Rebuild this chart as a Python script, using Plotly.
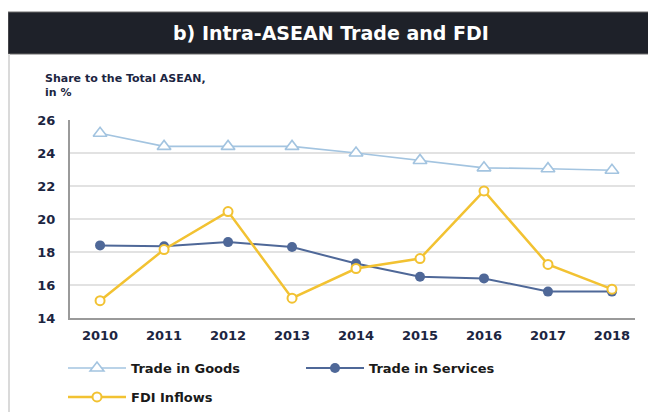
import plotly.graph_objects as go

years = [2010, 2011, 2012, 2013, 2014, 2015, 2016, 2017, 2018]
trade_goods = [25.2, 24.4, 24.4, 24.4, 24.0, 23.55, 23.1, 23.05, 22.95]
trade_services = [18.4, 18.35, 18.6, 18.3, 17.3, 16.5, 16.4, 15.6, 15.6]
fdi_inflows = [15.05, 18.15, 20.45, 15.2, 17.0, 17.6, 21.7, 17.25, 15.75]
y_ticks = [14, 16, 18, 20, 22, 24, 26]

NAVY = "#1c2541"
FONT = "DejaVu Sans"
OFF = 8  # page body margin
W, H = 656 - OFF, 412 - OFF


def px_x(px):
    return (px - 70) / 565


def px_y(py):
    return (318 - py) / 198


def cx(px):
    return (px - OFF) / W


def cy(py):
    return 1 - (py - OFF) / H


fig = go.Figure()
fig.add_trace(go.Scatter(
    x=years, y=trade_goods, name="Trade in Goods", mode="lines+markers",
    line=dict(color="#a3c4e0", width=1.6),
    marker=dict(symbol="triangle-up", size=12, color="white",
                line=dict(color="#a3c4e0", width=1.6)),
    legend="legend"))
fig.add_trace(go.Scatter(
    x=years, y=trade_services, name="Trade in Services", mode="lines+markers",
    line=dict(color="#4f6898", width=2),
    marker=dict(symbol="circle", size=10, color="#4f6898"),
    legend="legend2"))
fig.add_trace(go.Scatter(
    x=years, y=fdi_inflows, name="FDI Inflows", mode="lines+markers",
    line=dict(color="#f2c232", width=2.5),
    marker=dict(symbol="circle", size=9, color="white",
                line=dict(color="#f2c232", width=2)),
    legend="legend3"))

legend_common = dict(orientation="h", xref="container", yref="container",
                     xanchor="left", yanchor="middle", itemwidth=58,
                     font=dict(size=13, color="#1a1a1a", family=FONT, weight="bold"),
                     bgcolor="rgba(0,0,0,0)")

fig.update_layout(
    width=W, height=H,
    margin=dict(l=70 - OFF, r=656 - 635, t=120 - OFF, b=412 - 318, autoexpand=False),
    paper_bgcolor="white", plot_bgcolor="white",
    font=dict(family=FONT, color=NAVY, size=13, weight="bold"),
    showlegend=True,
    legend=dict(x=cx(63), y=cy(368), **legend_common),
    legend2=dict(x=cx(301), y=cy(368), **legend_common),
    legend3=dict(x=cx(63), y=cy(397), **legend_common),
    xaxis=dict(range=[2009.53, 2018.36], tickmode="array", tickvals=years,
               ticktext=[str(y) for y in years], showgrid=False,
               showline=True, linecolor="#9a9a9a", linewidth=2,
               ticks="", zeroline=False, ticklabelstandoff=4,
               tickfont=dict(size=13, color=NAVY)),
    yaxis=dict(range=[14, 26], tickmode="array", tickvals=y_ticks,
               showgrid=True, gridcolor="#e2e2e2", gridwidth=1.5,
               showline=True, linecolor="#9a9a9a", linewidth=2,
               ticks="", zeroline=False, ticklabelstandoff=10,
               tickfont=dict(size=13, color=NAVY)),
)

# Title bar and panel frame
fig.add_shape(type="rect", xref="paper", yref="paper",
              x0=px_x(8), x1=px_x(660), y0=px_y(54), y1=px_y(12),
              fillcolor="#1e2129", line=dict(color="#6a6a6a", width=1), layer="above")
fig.add_shape(type="line", xref="paper", yref="paper",
              x0=px_x(9), x1=px_x(9), y0=px_y(54), y1=px_y(420),
              line=dict(color="#dadada", width=2))
fig.add_annotation(text="b) Intra-ASEAN Trade and FDI", xref="paper", yref="paper",
                   x=px_x(331), y=px_y(33), xanchor="center", yanchor="middle",
                   showarrow=False, font=dict(size=19, color="white", family=FONT, weight="bold"))
fig.add_annotation(text="Share to the Total ASEAN,<br>in %", xref="paper", yref="paper",
                   x=px_x(43), y=px_y(85), xanchor="left", yanchor="middle", align="left",
                   showarrow=False, font=dict(size=11, color=NAVY, family=FONT, weight="bold"))

fig.write_html("out.html")
